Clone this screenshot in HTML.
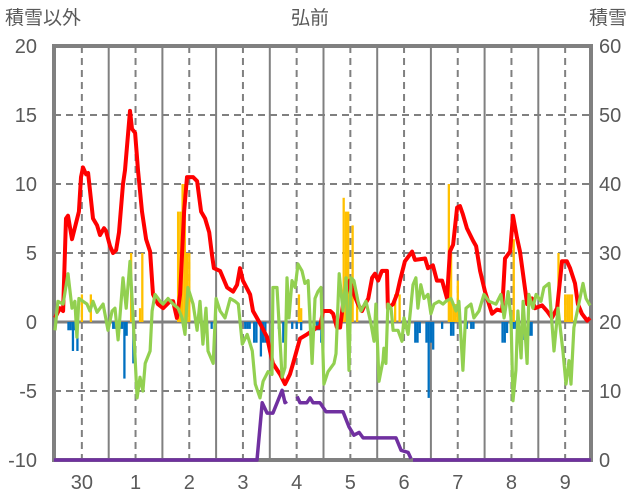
<!DOCTYPE html>
<html><head><meta charset="utf-8">
<style>
body{margin:0;background:#fff;}
svg{display:block;font-family:"Liberation Sans","Noto Sans CJK JP",sans-serif;}
</style></head>
<body>
<svg id="chart" width="636" height="501" viewBox="0 0 636 501" xmlns="http://www.w3.org/2000/svg">
<text x="5" y="24" font-size="19" fill="#595959">積雪以外</text>
<text x="310" y="24" font-size="19" fill="#595959" text-anchor="middle">弘前</text>
<text x="589" y="24" font-size="19" fill="#595959">積雪</text>
<g id="grid"></g>
<g id="bars"></g>
<g id="frame"></g>
<g id="lines"></g>
<g id="labels"></g>
</svg>
<script>
const leftTicks=[20,15,10,5,0,-5,-10];
const rightTicks=[60,50,40,30,20,10,0];
const dayLabels=["30","1","2","3","4","5","6","7","8","9"];
const redHours=[0,2.2,3.6,4.9,5.8,7.6,10.7,11.6,12.5,13.9,14.8,17,18.8,20.1,21.9,22.8,24.6,25.9,27.3,28.6,30.4,31.3,33.5,34.4,35.8,37.1,38.9,40.7,42.5,43.8,46,48.3,51.4,52.8,54.5,55.9,57.7,59,61.7,63.5,65.3,67.1,68.9,70.2,71,73.8,76.9,79.6,81.4,82.7,84,87.2,88.5,91.6,94.8,96.1,97.4,100.6,102.8,105,106.4,109.5,112.6,115.3,117.1,118.4,119.8,123,124.3,126,127.4,128.7,131.8,133.1,135.4,137.2,138.6,140,141.7,143,144.4,146.1,148.4,148.8,151.1,152.8,154.2,156.4,159.6,160.9,165.4,166.7,168.9,170.7,173,175.2,176.5,177.9,179.7,181,182.3,184.1,186.8,188.2,190,192.2,195.3,197.5,199.8,201.1,203.4,204.7,206.5,207.8,211,213.2,214.5,217.7,219.9,222.1,224.4,226.6,228.8,230.2,232.4,233.7,235.5,237.8,239.1];
const redValues=[0.3,1,0.8,7.5,7.7,6,8,10.5,11.2,10.7,10.8,7.5,7,6.3,6.8,6.6,5.5,5,5.2,6.5,10,11,15.3,14,13.7,11,8,6,5.1,2,1.3,1,1.5,1.5,0.3,2,8,10.5,10.5,10.2,8,7.5,6.5,4.8,3.9,3.7,2.5,2.2,2.7,3.9,3,2,0.8,-0.1,-1.1,-2.1,-3,-3.8,-4.5,-3.8,-3,-1.2,-0.9,-0.6,-0.4,-0.4,0.8,0.8,0.6,-0.4,-0.4,1.3,3,2.2,1.3,0.8,1.3,1.7,3.2,3.5,3,3.7,3.7,1.0,1.3,2,3,4.4,5.1,4.5,4.6,3.9,4.1,3,3,1.7,5.1,5.6,8.3,8.4,7.8,6.8,5.9,5.5,3.7,2.2,0.6,0.9,0.8,4.6,5.1,7.7,6.1,5.1,1.3,1.7,1.0,1.2,0.8,0.3,1.0,4.4,4.4,3.9,2.8,1.3,0.6,0.1,0.3];
const greenHours=[0,1.3,3.6,5.8,7.6,8.9,9.8,10.7,12.5,14.3,15.6,17,18.8,21.5,23.7,25.5,26.8,28.2,30.4,31.8,33.5,34.9,36.7,38,39.3,40.3,42.5,43.4,44.7,47,48.3,50.5,52.8,55,56.8,58.1,59.4,61.7,63.5,64.8,66.1,67.5,68.4,70.7,72,73.8,76,78.3,80.5,81.9,83.7,85.9,88.2,89.5,91.6,93,95.2,97,97.4,99.2,101.5,102.8,103.7,104.6,105.9,107.3,108.6,110.4,111.7,113.1,114.9,116.2,117.5,118.9,120.2,122,124.7,125.6,127,128.7,130.1,131.4,132.3,133.6,135.4,136.7,139,141.2,142.6,143.4,144.8,146.6,147,147.9,148.8,150.2,151.1,153.3,155.1,156,157.8,160,161.3,162.2,163.5,164.9,166.7,168,169.4,171.6,173.4,174.7,177,179.2,180.5,182.3,183.7,185.9,187.2,189.5,191.7,194,197.1,199.3,200.7,202.5,203.8,204.7,206,206.9,208.3,209.2,211,211.8,213.6,215,217.2,218.5,220.8,223,224.8,227,228.4,229.7,230.6,231.9,233.7,236,237.3,239.1];
const greenValues=[-0.6,1.5,1.3,3.5,1,1.5,-1.1,1.7,1.5,1.3,0.8,1.5,0.7,1.3,-0.6,0.8,1,-1.3,3.2,1,4.4,0.3,-5.5,-4,-5,-3,-2.1,0.8,2,1.5,1.3,1.7,1.3,1,0.3,-0.9,2.5,1.3,-0.6,1.5,-1.6,1,-2.1,-3,1.7,0.8,0.3,1.7,1.5,1.3,-1.6,-0.9,-2.1,-4.5,-5.5,-4.3,-3.6,-3.8,2.5,2.5,-4,-3.3,3.2,0.3,3,2.5,4.2,3.7,2.8,3,-3,1.7,2.2,2.5,-4.5,-3.6,-3,-2.3,3.5,0.8,3.2,-3.5,3.2,3,1.5,0.8,1.5,-0.1,-1.4,1.3,-4.3,-2.8,-1.9,-3,1.3,1,-0.6,-0.6,-1.4,0.3,-0.9,2.7,3.2,1,2.7,1.7,2,0.6,1.3,1.5,1.3,1.5,1.7,0.8,1.5,-3.5,1,1.3,0.3,0.8,2,1.5,1.3,2,0.3,2.2,0.3,-5.7,-3.5,0.8,-2.6,1.5,-3,2,1,2,1.5,2.5,2.8,-2.1,1,-2.1,-4.5,-2.8,-4.5,-0.4,1,2.8,1.7,1.2];
const snowHours=[-0.5,90.3,92.6,94.8,97.4,101.5,102.8,103.7,null,108.2,109.5,112.6,114,115.3,118.4,121.1,128.7,131.4,133.6,135.9,137.7,152.4,154.7,157.8,159.1,null,160,239.5];
const snowValues=[0,0,8.3,6.8,6.8,10.1,8.3,8.5,null,9.2,8.3,8.3,9,8.3,8.3,7,7,4.8,3.6,4,3.2,3.2,1.4,1.1,0.2,null,0,0];
const yellowHours=[12,16,34,38,39,55,56,57,58,59,60,109,110,129,130,131,132,133,135,152,154,176,177,178,179,180,205,225,228,229,230,231];
const yellowValues=[2,2,5,1,5,8,8,10,10,5,5,2,1,9,8,8,2,7,2,2,2,10,5,1.3,1.3,3,6,5,2,2,2,2];
const blueHours=[6,7,8,9,10,26,27,29,30,31,32,35,68,70,85,86,87,89,90,92,93,94,100,102,106,108,110,117,118,119,161,162,163,166,167,168,169,173,177,178,184,186,187,200,201,202,205,206,209,212,213];
const blueValues=[-0.6,-0.6,-2.1,-0.6,-2.1,-0.5,-0.5,-0.5,-0.5,-4.1,-1,-3,-0.5,-0.5,-0.5,-0.5,-0.5,-1.5,-1.5,-2.5,-1.5,-1.5,-0.5,-1.5,-0.5,-0.5,-0.6,-0.6,-0.6,-1.5,-1.5,-1.5,-0.8,-1.5,-5.5,-1.5,-2,-0.5,-1,-1,-0.5,-0.5,-0.5,-1.5,-1.5,-0.8,-0.5,-0.5,-1.3,-1,-1];

const NS="http://www.w3.org/2000/svg";
const X0=55, PXH=2.2375, L=54, R=591, T=46, B=460;
const xH=h=>X0+h*PXH;
const yL=v=>B-(v+10)*(B-T)/30;
const yR=v=>B-v*(B-T)/60;
function mk(tag,parent,attrs){const e=document.createElementNS(NS,tag);for(const k in attrs)e.setAttribute(k,attrs[k]);parent.appendChild(e);return e;}
const grid=document.getElementById('grid'),bars=document.getElementById('bars'),lines=document.getElementById('lines'),frame=document.getElementById('frame'),labels=document.getElementById('labels');

leftTicks.forEach(v=>{
  if(v!==20&&v!==-10&&v!==0){const g=mk('line',grid,{x1:L,x2:R,y1:yL(v),y2:yL(v),stroke:'#808080','stroke-width':2,'stroke-dasharray':'7,5'});
  
  }
  const t=mk('text',labels,{x:37,y:yL(v)+7,'font-size':20,fill:'#595959','text-anchor':'end'});t.textContent=v;
  
  
});
rightTicks.forEach(v=>{
  const t=mk('text',labels,{x:599,y:yR(v)+7,'font-size':20,fill:'#595959'});t.textContent=v;
  
  
});
dayLabels.forEach((d,i)=>{
  const xm=xH(12+24*i), xb=xH(24+24*i);
  const dl=mk('line',grid,{x1:xm,x2:xm,y1:T,y2:B,stroke:'#808080','stroke-width':2,'stroke-dasharray':'7,5'});
  
  
  if(i<9){const sl=mk('line',grid,{x1:xb,x2:xb,y1:T,y2:B,stroke:'#808080','stroke-width':2});
  
  }
  const t=mk('text',labels,{x:xm,y:489,'font-size':20,fill:'#595959','text-anchor':'middle'});t.textContent=d;
  
  
});
const zl=mk('line',grid,{x1:L,x2:R,y1:yL(0),y2:yL(0),stroke:'#808080','stroke-width':3});



function drawBars(hs,vs,color,name){
  hs.forEach((h,i)=>{const v=vs[i];const y1=yL(0),y2=yL(v);
    const r=mk('rect',bars,{x:xH(h)-1.1,y:Math.min(y1,y2),width:2.3,height:Math.abs(y2-y1),fill:color});
    
    });
}
drawBars(yellowHours,yellowValues,'#ffc000','precip-bar');
drawBars(blueHours,blueValues,'#0070c0','negative-bar');

const fr=mk('rect',frame,{x:L,y:T,width:R-L,height:B-T,fill:'none',stroke:'#808080','stroke-width':4});



function drawLine(hs,vs,yf,color,w,name){
  let d='',pen=false;
  hs.forEach((h,i)=>{if(h===null||vs[i]===null){pen=false;return;}
    d+=(pen?'L':'M')+xH(h).toFixed(1)+','+yf(vs[i]).toFixed(1);pen=true;});
  const p=mk('path',lines,{d:d,fill:'none',stroke:color,'stroke-width':w,'stroke-linejoin':'round'});
  
  
}
drawLine(redHours,redValues,yL,'#ff0000',4,'red-series-line');
drawLine(greenHours,greenValues,yL,'#92d050',3.2,'green-series-line');
drawLine(snowHours,snowValues,yR,'#7030a0',3.5,'snow-depth-line');
</script>
</body></html>
